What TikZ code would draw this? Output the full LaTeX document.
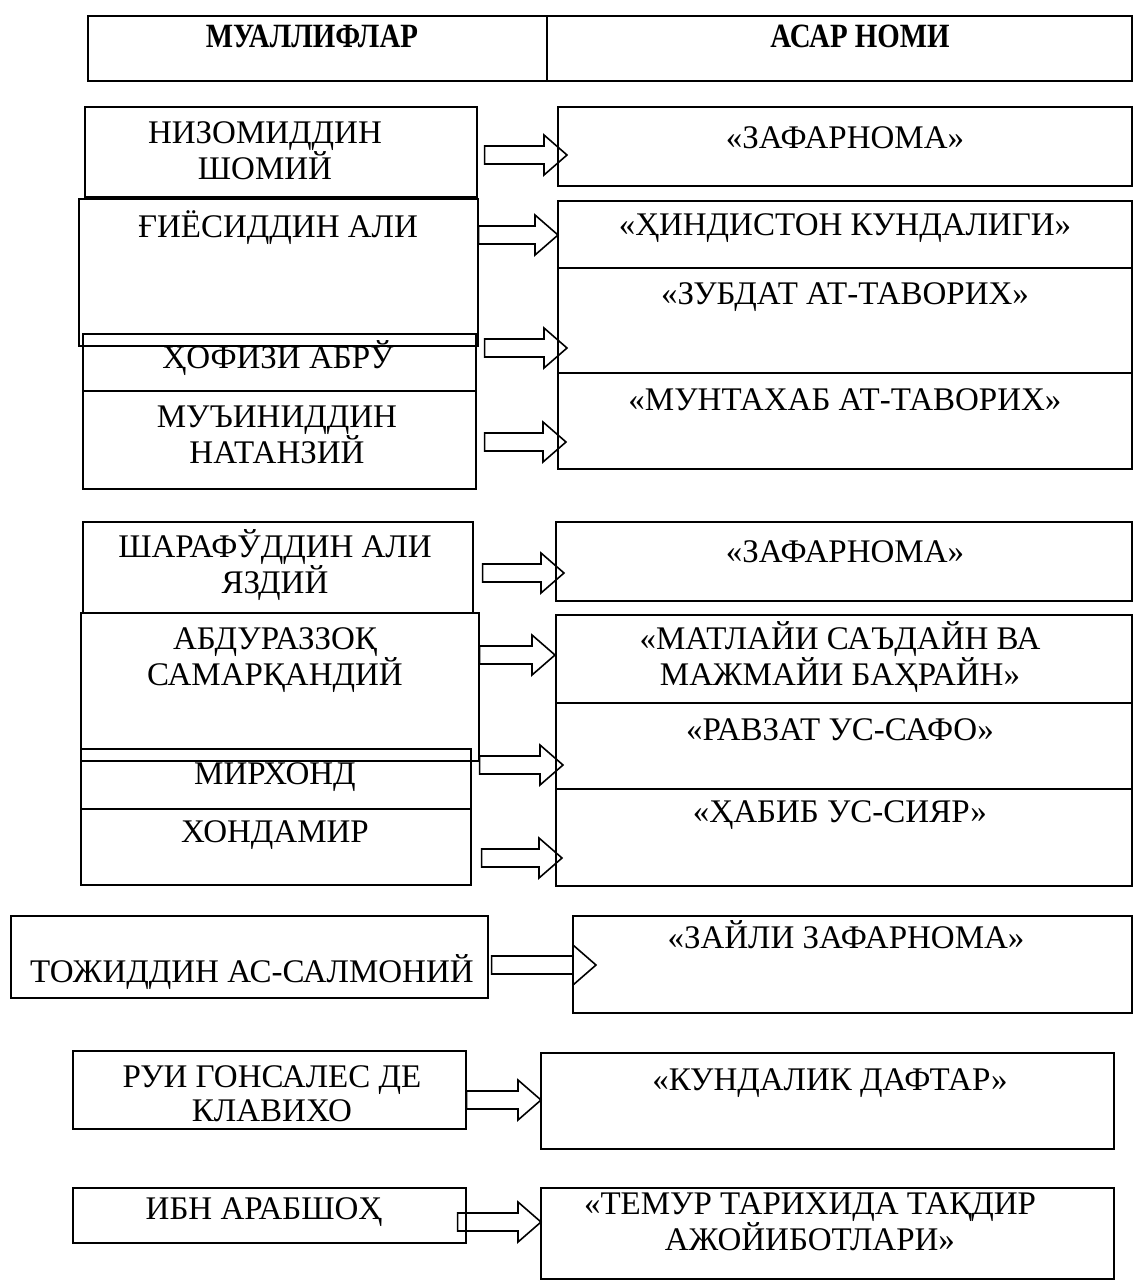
\documentclass[tikz,border=0pt]{standalone}
\usepackage{fontspec}
\setmainfont{Liberation Serif}
\usetikzlibrary{calc}
\newcommand\mybox[5]{\node[box, minimum width={(#4)-(#2)}, minimum height={(#5)-(#3)}] (#1) at (#2,#3) {};}
\newcommand\blk[5]{%
 \draw[barrow] let \p1=(#1.east), \p2=(#2.west) in
  (\x1+#4pt, -#3pt+9pt) -- (\x2+#5pt-23pt, -#3pt+9pt) -- (\x2+#5pt-23pt, -#3pt+20pt) -- (\x2+#5pt, -#3pt)
  -- (\x2+#5pt-23pt, -#3pt-20pt) -- (\x2+#5pt-23pt, -#3pt-9pt) -- (\x1+#4pt, -#3pt-9pt) -- cycle;}
\begin{document}
\begin{tikzpicture}[x=1pt,y=-1pt,
  box/.style={draw, line width=1.6pt, rectangle, inner sep=0pt, anchor=north west},
  txt/.style={font=\fontsize{33}{34}\selectfont, align=center, inner sep=0pt},
  hdr/.style={font=\fontsize{34}{36}\selectfont\bfseries, inner sep=0pt},
  barrow/.style={draw, line width=1.6pt, line join=miter}]
\useasboundingbox (0,0) rectangle (1133,1280);
\fill[white] (0,0) rectangle (1133,1280);
% header
\mybox{head}{87}{15}{1131}{80}
\coordinate (dtop) at (547,15);
\coordinate (dbot) at (547,80);
\draw[line width=1.2pt] (dtop) -- (dbot);
\node[hdr] (h1) at (312,36) {\scalebox{0.85}[1]{МУАЛЛИФЛАР}};
\node[hdr] (h2) at (860,36) {\scalebox{0.85}[1]{АСАР НОМИ}};
% group 1 left
\mybox{n1}{84}{106}{476}{196}
\mybox{g}{78}{198}{477}{345}
\mybox{hf}{82}{333}{475}{390}
\mybox{mn}{82}{390}{475}{488}
\node[txt] (tn1) at (265,151) {НИЗОМИДДИН\\ШОМИЙ};
\node[txt] (tg) at (278,228) {ҒИЁСИДДИН АЛИ};
\node[txt] (thf) at (278,358) {ҲОФИЗИ АБРЎ};
\node[txt] (tmn) at (277,435) {МУЪИНИДДИН\\НАТАНЗИЙ};
% group 1 right
\mybox{r1}{557}{106}{1131}{185}
\mybox{r2}{557}{200}{1131}{267}
\mybox{r3}{557}{267}{1131}{372}
\mybox{r4}{557}{372}{1131}{468}
\node[txt] (tr1) at (845,138) {«ЗАФАРНОМА»};
\node[txt] (tr2) at (845,228) {«ҲИНДИСТОН КУНДАЛИГИ»};
\node[txt] (tr3) at (845,297) {«ЗУБДАТ АТ-ТАВОРИХ»};
\node[txt] (tr4) at (845,400) {«МУНТАХАБ АТ-ТАВОРИХ»};
\blk{n1}{r1}{155}{7}{10}
\blk{g}{r2}{235}{0}{1}
\blk{hf}{r3}{348}{8}{10}
\blk{mn}{r4}{442}{8}{9}
% group 2 left
\mybox{sh}{82}{521}{472}{612}
\mybox{ab}{80}{612}{478}{760}
\mybox{mr}{80}{748}{470}{808}
\mybox{kh}{80}{808}{470}{884}
\node[txt] (tsh) at (275,565) {ШАРАФЎДДИН АЛИ\\ЯЗДИЙ};
\node[txt] (tab) at (275,660) {АБДУРАЗЗОҚ\\САМАРҚАНДИЙ};
\node[txt] (tmr) at (275,777) {МИРХОНД};
\node[txt] (tkh) at (275,835) {ХОНДАМИР};
% group 2 right
\mybox{r5}{555}{521}{1131}{600}
\mybox{r6}{555}{614}{1131}{702}
\mybox{r7}{555}{702}{1131}{788}
\mybox{r8}{555}{788}{1131}{885}
\node[txt] (tr5) at (845,552) {«ЗАФАРНОМА»};
\node[txt] (tr6) at (840,657) {«МАТЛАЙИ САЪДАЙН ВА\\МАЖМАЙИ БАҲРАЙН»};
\node[txt] (tr7) at (840,730) {«РАВЗАТ УС-САФО»};
\node[txt] (tr8) at (840,815) {«ҲАБИБ УС-СИЯР»};
\blk{sh}{r5}{573}{9}{9}
\blk{ab}{r6}{655}{0}{0}
\blk{mr}{r7}{765}{8}{8}
\blk{kh}{r8}{858}{10}{7}
% group 3
\mybox{tj}{10}{915}{487}{997}
\mybox{zf}{572}{915}{1131}{1012}
\node[txt] (ttj) at (252,972) {ТОЖИДДИН АС-САЛМОНИЙ};
\node[txt] (tzf) at (846,935) {«ЗАЙЛИ ЗАФАРНОМА»};
\blk{tj}{zf}{965}{3}{24}
% group 4
\mybox{ru}{72}{1050}{465}{1128}
\mybox{kd}{540}{1052}{1113}{1148}
\node[txt] (tru) at (272,1094) {РУИ ГОНСАЛЕС ДЕ\\КЛАВИХО};
\node[txt] (tkd) at (830,1083) {«КУНДАЛИК ДАФТАР»};
\blk{ru}{kd}{1100}{0}{1}
% group 5
\mybox{ib}{72}{1187}{465}{1242}
\mybox{tm}{540}{1187}{1113}{1278}
\node[txt] (tib) at (264,1212) {ИБН АРАБШОҲ};
\node[txt] (ttm) at (810,1222) {«ТЕМУР ТАРИХИДА ТАҚДИР\\АЖОЙИБОТЛАРИ»};
\blk{ib}{tm}{1222}{-9}{1}
\end{tikzpicture}
\end{document}
